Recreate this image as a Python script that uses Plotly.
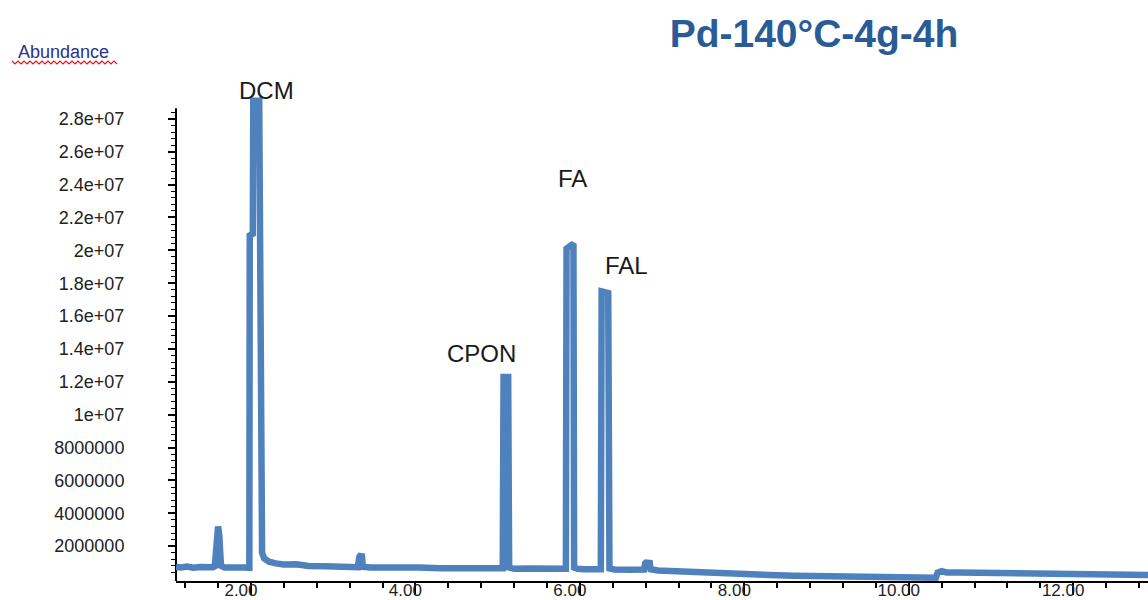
import plotly.graph_objects as go

# Total ion chromatogram: retention time (min) vs abundance (millions of counts)
retention_time = [
    1.088, 1.15, 1.22, 1.30, 1.38, 1.46, 1.54,
    1.56, 1.585, 1.60, 1.615, 1.635,
    1.68, 1.76, 1.84, 1.92, 1.98,
    1.985, 2.022, 2.028, 2.10, 2.115, 2.135, 2.16, 2.22, 2.30, 2.40,
    2.55, 2.70, 2.90, 3.10, 3.30,
    3.318, 3.325, 3.35, 3.36,
    3.45, 3.65, 3.85, 4.05, 4.30, 4.55, 4.80, 5.00,
    5.062, 5.072, 5.128, 5.14,
    5.20, 5.40, 5.60, 5.80,
    5.83, 5.838, 5.922, 5.93,
    5.97, 6.05, 6.20,
    6.255, 6.265, 6.345, 6.36,
    6.42, 6.60, 6.78,
    6.795, 6.805, 6.85, 6.86,
    6.95, 7.10, 7.30, 7.50, 7.75, 8.00, 8.30, 8.60, 8.90, 9.20, 9.50, 9.80,
    10.10, 10.33, 10.35, 10.40, 10.46, 10.60, 10.90, 11.20, 11.50, 11.80,
    12.10, 12.40, 12.70, 12.91,
]
abundance_millions = [
    0.74, 0.70, 0.76, 0.69, 0.73, 0.68, 0.72,
    0.78, 2.90, 3.20, 2.60, 0.80,
    0.70, 0.73, 0.67, 0.70, 0.68,
    20.9, 21.0, 29.1, 29.1, 4.0, 1.6, 1.25, 1.05, 0.95, 0.88,
    0.90, 0.80, 0.78, 0.74, 0.72,
    1.35, 1.40, 1.38, 0.75,
    0.70, 0.72, 0.66, 0.70, 0.65, 0.68, 0.63, 0.66,
    0.65, 12.3, 12.3, 0.70,
    0.62, 0.64, 0.60, 0.62,
    0.62, 20.1, 20.4, 0.70,
    0.62, 0.60, 0.58,
    0.60, 17.5, 17.4, 0.65,
    0.58, 0.57, 0.58,
    0.95, 1.00, 0.98, 0.60,
    0.52, 0.50, 0.45, 0.42, 0.35, 0.30, 0.25, 0.20, 0.16, 0.14, 0.12, 0.10,
    0.09, 0.08, 0.38, 0.48, 0.40, 0.40, 0.38, 0.36, 0.33, 0.30,
    0.30, 0.28, 0.26, 0.25,
]
abundance = [v * 1e6 for v in abundance_millions]

# Axis ticks
x_tick_values = [2, 4, 6, 8, 10, 12]
x_tick_text = ["2.00", "4.00", "6.00", "8.00", "10.00", "12.00"]
y_tick_values = [2e6, 4e6, 6e6, 8e6, 10e6, 12e6, 14e6, 16e6, 18e6, 20e6,
                 22e6, 24e6, 26e6, 28e6]
y_tick_text = ["2000000", "4000000", "6000000", "8000000", "1e+07", "1.2e+07",
               "1.4e+07", "1.6e+07", "1.8e+07", "2e+07", "2.2e+07", "2.4e+07",
               "2.6e+07", "2.8e+07"]

# Compound labels
peak_names = ["DCM", "CPON", "FA", "FAL"]
peak_label_time = [2.19, 4.80, 5.905, 6.57]
peak_label_abundance = [29.7e6, 13.75e6, 24.4e6, 19.1e6]

FONT = "Liberation Sans, Arial, sans-serif"
LINE_BLUE = "#4f81bd"

W, H = 1148, 600
ML, MR, MT, MB = 176, 0, 86, 19
PW, PH = W - ML - MR, H - MT - MB
X_RANGE = [1.088, 12.91]
Y_RANGE = [-0.12e6, 30e6]
Y_AXIS_TOP = 28.65e6

fig = go.Figure()
fig.add_trace(go.Scatter(
    x=retention_time, y=abundance, mode="lines",
    line=dict(color=LINE_BLUE, width=6.5),
    hoverinfo="x+y", showlegend=False,
))

for name, t, a in zip(peak_names, peak_label_time, peak_label_abundance):
    fig.add_annotation(x=t, y=a, xref="x", yref="y", text=name, showarrow=False,
                       xanchor="center", yanchor="middle",
                       font=dict(family=FONT, size=24, color="#1a1a1a"))


def to_paper(px, py):
    return (px - ML) / PW, (H - MB - py) / PH


# "Abundance" caption above the y axis
ax, ay = to_paper(63, 52)
fig.add_annotation(x=ax, y=ay, xref="paper", yref="paper", text="Abundance",
                   showarrow=False, xanchor="center", yanchor="middle",
                   font=dict(family=FONT, size=18, color="#2b318c"))

# red wavy underline under the caption
pts = []
for i, px in enumerate(range(12, 119, 3)):
    pts.append(to_paper(px, 61 if i % 2 == 0 else 64))
path = "M " + " L ".join(f"{x:.5f},{y:.5f}" for x, y in pts)
fig.add_shape(type="path", path=path, xref="paper", yref="paper",
              line=dict(color="#e0141e", width=1.2))

# y axis spine (stops just above the top tick)
fig.add_shape(type="line", xref="paper", yref="y", x0=0, x1=0,
              y0=Y_RANGE[0], y1=Y_AXIS_TOP, layer="below",
              line=dict(color="black", width=2))

y_minor = [k * 0.4e6 for k in range(1, 72)]

fig.update_layout(
    width=W, height=H, autosize=False,
    margin=dict(l=ML, r=MR, t=MT, b=MB, autoexpand=False),
    paper_bgcolor="white", plot_bgcolor="white",
    title=dict(text="Pd-140°C-4g-4h", x=814 / W, xref="container", xanchor="center",
               y=1 - 33 / H, yref="container", yanchor="middle",
               font=dict(family=FONT, size=39, color="#2a5b97", weight="bold")),
    xaxis=dict(
        range=X_RANGE, showgrid=False, zeroline=False,
        showline=True, linecolor="black", linewidth=2, layer="below traces",
        tickmode="array", tickvals=x_tick_values, ticktext=x_tick_text,
        ticks="outside", ticklen=12, tickwidth=1.5, tickcolor="black",
        ticklabelshift=-10, ticklabelstandoff=-19,
        tickfont=dict(family=FONT, size=17, color="#222222"),
        minor=dict(dtick=0.4, tick0=2, ticks="outside", ticklen=5,
                   tickwidth=1.5, tickcolor="black"),
    ),
    yaxis=dict(
        range=Y_RANGE, showgrid=False, zeroline=False, showline=False,
        tickmode="array", tickvals=y_tick_values, ticktext=y_tick_text,
        ticks="outside", ticklen=7, tickwidth=1.5, tickcolor="black",
        ticklabelstandoff=40,
        tickfont=dict(family=FONT, size=18, color="#222222"),
        minor=dict(tickmode="array", tickvals=y_minor, ticks="outside", ticklen=4,
                   tickwidth=1.2, tickcolor="black"),
    ),
)

fig.write_html("out.html")
